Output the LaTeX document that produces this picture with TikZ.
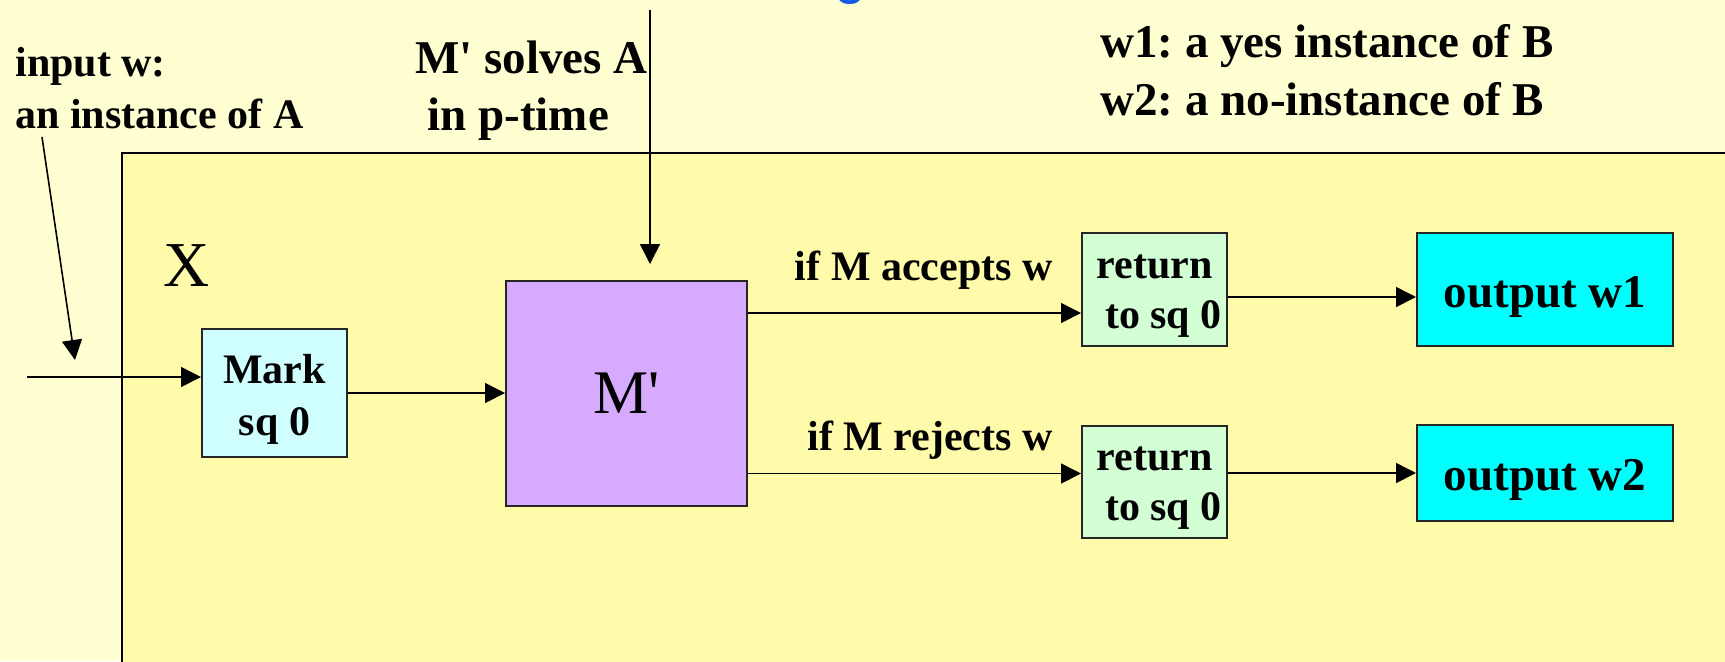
\documentclass[tikz,border=0pt]{standalone}
\usepackage{fontspec}
\setmainfont{Liberation Serif}
\newfontfamily\titlesans{Liberation Sans}
\usetikzlibrary{arrows.meta}
\frenchspacing
\definecolor{bgout}{RGB}{255,255,210}
\definecolor{bgmain}{RGB}{255,251,170}
\definecolor{markfill}{RGB}{208,255,255}
\definecolor{mfill}{RGB}{214,170,255}
\definecolor{retfill}{RGB}{210,255,212}
\definecolor{outfill}{RGB}{0,255,255}
\definecolor{titleblue}{RGB}{20,90,230}
\begin{document}
\frenchspacing
\begin{tikzpicture}[x=0.5pt,y=-0.5pt,
  box/.style={draw=black!85, line width=1pt, inner sep=0pt, align=center},
  conn/.style={line width=0.8pt, -{Triangle[length=10pt,width=10pt]}},
  lbl/.style={inner sep=0pt, anchor=base west},
  fA/.style={font=\fontsize{21}{26}\selectfont\bfseries},
  fB/.style={font=\fontsize{23.5}{29}\selectfont\bfseries},
  twoline/.style={text height=#1, text depth=2pt},
  oneline/.style={text height=20pt, text depth=2.5pt}
]
\useasboundingbox (0,0) rectangle (1725,661);
\fill[bgout] (0,0) rectangle (1725,661);
\draw[fill=bgmain, line width=1pt] (122,153) rectangle (1760,700);

% fragment of the title above the picture
\node[inner sep=0pt, anchor=base west, text=titleblue, font=\titlesans\fontsize{29}{30}\selectfont] (ttl) at (834,-8) {g};

% free texts
\node[lbl,fA] (in1) at (15,76) {input w:};
\node[lbl,fA] (in2) at (15,128) {an instance of A};
\node[lbl,fB] (ms1) at (415,73) {M\textquotesingle{} solves A};
\node[lbl,fB] (ms2) at (427,130) {in p-time};
\node[lbl,fB] (w1) at (1100,57) {w1: a yes instance of B};
\node[lbl,fB] (w2) at (1100,115) {w2: a no-instance of B};
\node[lbl,font=\fontsize{32}{36}\selectfont] (xl) at (163,286) {X};

% boxes
\node[box, fill=markfill, minimum width=72.5pt, minimum height=64pt, fA, twoline=44pt] (mark) at (274.5,393) {Mark\\sq 0};
\node[box, fill=mfill, minimum width=120.5pt, minimum height=112.5pt, font=\fontsize{31}{36}\selectfont] (m) at (626.5,393.5) {M\textquotesingle};
\node[box, fill=retfill, minimum width=72.5pt, minimum height=56.5pt, font=\fontsize{21}{25}\selectfont\bfseries, twoline=40.5pt] (ret1) at (1154.5,289.5) {return\\\hspace*{9pt}to sq 0};
\node[box, fill=retfill, minimum width=72.5pt, minimum height=56pt, font=\fontsize{21}{25}\selectfont\bfseries, twoline=40pt] (ret2) at (1154.5,482) {return\\\hspace*{9pt}to sq 0};
\node[box, fill=outfill, minimum width=128pt, minimum height=56.5pt, fB, oneline] (out1) at (1545,289.5) {output w1};
\node[box, fill=outfill, minimum width=128pt, minimum height=48pt, fB, oneline] (out2) at (1545,473) {output w2};

% connector labels
\node[inner sep=0pt, anchor=base east, fA] (acc) at (1053,280) {if M accepts w};
\node[inner sep=0pt, anchor=base east, fA] (rej) at (1053,450) {if M rejects w};

% free ends
\coordinate (topS) at (650,10);
\coordinate (topE) at (650,264);
\coordinate (inpS) at (42,137);
\coordinate (inpE) at (75,360);
\coordinate (lineS) at (27,377);

% connectors
\draw[conn] (topS) -- (topE);
\draw[conn] (inpS) -- (inpE);
\draw[conn] (lineS) -- (lineS -| mark.west);
\draw[conn] (mark.east) -- (mark.east -| m.west);
\draw[conn] ([yshift=40.25pt]m.east) -- ([yshift=40.25pt]m.east -| ret1.west);
\draw[conn] ([yshift=-40pt]m.east) -- ([yshift=-40pt]m.east -| ret2.west);
\draw[conn] ([yshift=-3.75pt]ret1.east) -- ([yshift=-3.75pt]ret1.east -| out1.west);
\draw[conn] (ret2.east |- out2.west) -- (out2.west);
\end{tikzpicture}
\end{document}
